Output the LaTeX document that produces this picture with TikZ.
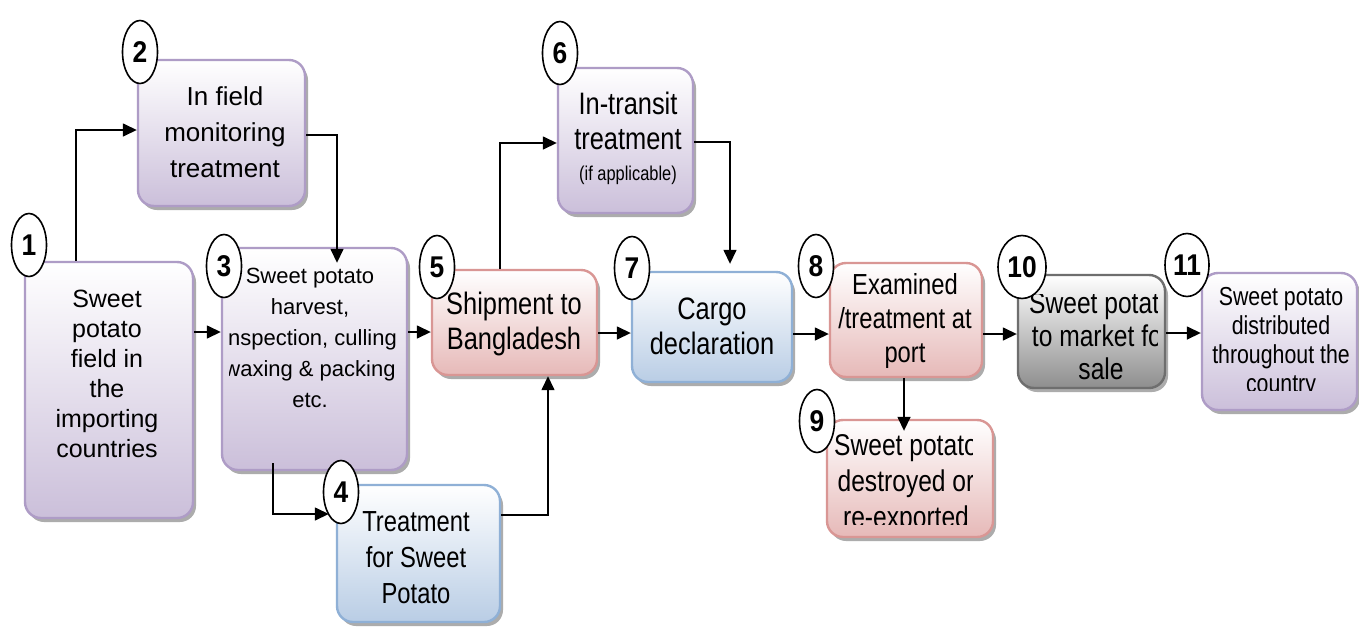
\documentclass[tikz,border=0pt]{standalone}
\usepackage{fontspec}
\setmainfont{Liberation Sans}
\newfontfamily\narrowfont[FakeStretch=0.82]{Liberation Sans}
\newfontfamily\numfont[FakeStretch=0.88]{Liberation Sans}
\usetikzlibrary{shapes.geometric,arrows.meta,shadows}

\definecolor{purpleEdge}{HTML}{AE9CC6}
\definecolor{purpleFill}{HTML}{CBBFDA}
\definecolor{redEdge}{HTML}{D99694}
\definecolor{redFill}{HTML}{E6B9B8}
\definecolor{blueEdge}{HTML}{8FB0D6}
\definecolor{blueFill}{HTML}{B9CDE5}
\definecolor{grayEdge}{HTML}{6E6E6E}
\definecolor{grayFill}{HTML}{8E8E8E}

\tikzset{
  box/.style={rounded corners=16pt, line width=2.4pt, inner sep=0pt,
    drop shadow={shadow xshift=3pt, shadow yshift=-4pt, fill=black!50, opacity=.65}},
  purplebox/.style={box, draw=purpleEdge, top color=white, bottom color=purpleFill},
  redbox/.style={box, draw=redEdge, top color=white, bottom color=redFill},
  bluebox/.style={box, draw=blueEdge, top color=white, bottom color=blueFill},
  graybox/.style={box, draw=grayEdge, top color=white, bottom color=grayFill},
  num/.style={ellipse, draw, line width=1.6pt, fill=white, inner sep=0pt,
    minimum width=35pt, minimum height=63pt,
    font=\numfont\bfseries\fontsize{30}{30}\selectfont},
  txt/.style={align=center, inner sep=0pt},
  arr/.style={line width=1.5pt, -{Triangle[length=14pt,width=13pt]}},
}

\begin{document}
\begin{tikzpicture}[x=1pt,y=-1pt]
\useasboundingbox[fill=white] (0,0) rectangle (1359,627);

% process boxes
\node[purplebox, minimum width=168pt, minimum height=256pt] (b1) at (109,390) {};
\node[purplebox, minimum width=167pt, minimum height=146pt] (b2) at (221.5,133) {};
\node[purplebox, minimum width=185pt, minimum height=222pt] (b3) at (314.5,359) {};
\node[bluebox,   minimum width=163pt, minimum height=137pt] (b4) at (418.5,553.5) {};
\node[redbox,    minimum width=165pt, minimum height=105pt] (b5) at (514.5,322.5) {};
\node[purplebox, minimum width=135pt, minimum height=145pt] (b6) at (625.5,140.5) {};
\node[bluebox,   minimum width=160pt, minimum height=110pt] (b7) at (712,327) {};
\node[redbox,    minimum width=152pt, minimum height=114pt] (b8) at (906,320) {};
\node[redbox,    minimum width=166pt, minimum height=117pt] (b9) at (910,478.5) {};
\node[graybox,   minimum width=147pt, minimum height=113pt] (b10) at (1091.5,331.5) {};
\node[purplebox, minimum width=155pt, minimum height=137pt] (b11) at (1279.5,341.5) {};

% connectors
\draw[arr] (76,0 |- b1.north) |- (b2.west |- 0,130);
\draw[arr, shorten >=-16pt] (b2.east |- 0,135) -| (337,0 |- b3.north);
\draw[arr] (b1.east |- 0,332) -- (b3.west |- 0,332);
\draw[arr, shorten <=-8pt, shorten >=7pt] (273,0 |- b3.south) |- (b4.west |- 0,514);
\draw[arr] (b3.east |- 0,332) -- (b5.west |- 0,332);
\draw[arr] (b4.east |- 0,515) -| (548,0 |- b5.south);
\draw[arr] (500,0 |- b5.north) |- (b6.west |- 0,143);
\draw[arr, shorten >=7pt] (b6.east |- 0,142) -| (730,0 |- b7.north);
\draw[arr] (b5.east |- 0,333) -- (b7.west |- 0,333);
\draw[arr] (b7.east |- 0,334) -- (b8.west |- 0,334);
\draw[arr, shorten >=-12pt] (904,0 |- b8.south) -- (904,0 |- b9.north);
\draw[arr] (b8.east |- 0,334) -- (b10.west |- 0,334);
\draw[arr] (b10.east |- 0,333) -- (b11.west |- 0,333);

% box texts
\node[txt, font=\fontsize{25}{30}\selectfont] (t1) at (107,374)
  {Sweet\\potato\\field in\\the\\importing\\countries};
\node[txt, font=\fontsize{26}{36}\selectfont] (t2) at (225,132)
  {In field\\monitoring\\treatment};
\begin{scope}
  \clip (229,252) rectangle (403,466);
  \node[txt, font=\fontsize{22}{31}\selectfont] (t3) at (310,338)
    {Sweet potato\\harvest,\\inspection, culling\\waxing \& packing\\etc.};
\end{scope}
\node[txt, font=\narrowfont\fontsize{29}{36}\selectfont] (t4) at (416,558)
  {Treatment\\for Sweet\\Potato};
\node[txt, font=\narrowfont\fontsize{31}{35}\selectfont] (t5) at (514,324)
  {Shipment to\\Bangladesh};
\node[txt, font=\narrowfont\fontsize{31}{35}\selectfont] (t6) at (628,138)
  {In-transit\\treatment\\[-4pt]{\fontsize{20}{22}\selectfont(if applicable)}};
\node[txt, font=\narrowfont\fontsize{31}{35}\selectfont] (t7) at (712,326)
  {Cargo\\declaration};
\node[txt, font=\narrowfont\fontsize{29}{34}\selectfont] (t8) at (905,321)
  {Examined\\/treatment at\\port};
\begin{scope}
  \clip (832,424) rectangle (972,524);
  \node[txt, font=\narrowfont\fontsize{30}{36}\selectfont] (t9) at (906,484)
    {Sweet potato\\destroyed or\\re-exported};
\end{scope}
\begin{scope}
  \clip (1023,294) rectangle (1157,384);
  \node[txt, font=\narrowfont\fontsize{30}{33}\selectfont] (t10) at (1101,336)
    {Sweet potato\\to market for\\sale};
\end{scope}
\begin{scope}
  \clip (1206,277) rectangle (1354,390);
  \node[txt, font=\narrowfont\fontsize{26}{29}\selectfont] (t11) at (1281,343)
    {Sweet potato\\distributed\\throughout the\\country};
\end{scope}

% step numbers
\node[num] (c1) at (29,245) {1};
\node[num] (c2) at (140,52) {2};
\node[num] (c3) at (224,266) {3};
\node[num] (c4) at (341,492) {4};
\node[num] (c5) at (437,267) {5};
\node[num] (c6) at (560,53) {6};
\node[num] (c7) at (632,268) {7};
\node[num] (c8) at (816,266) {8};
\node[num] (c9) at (817,421) {9};
\node[num, minimum width=48pt] (c10) at (1022,267) {10};
\node[num, minimum width=44pt] (c11) at (1187,265) {11};
\end{tikzpicture}
\end{document}
